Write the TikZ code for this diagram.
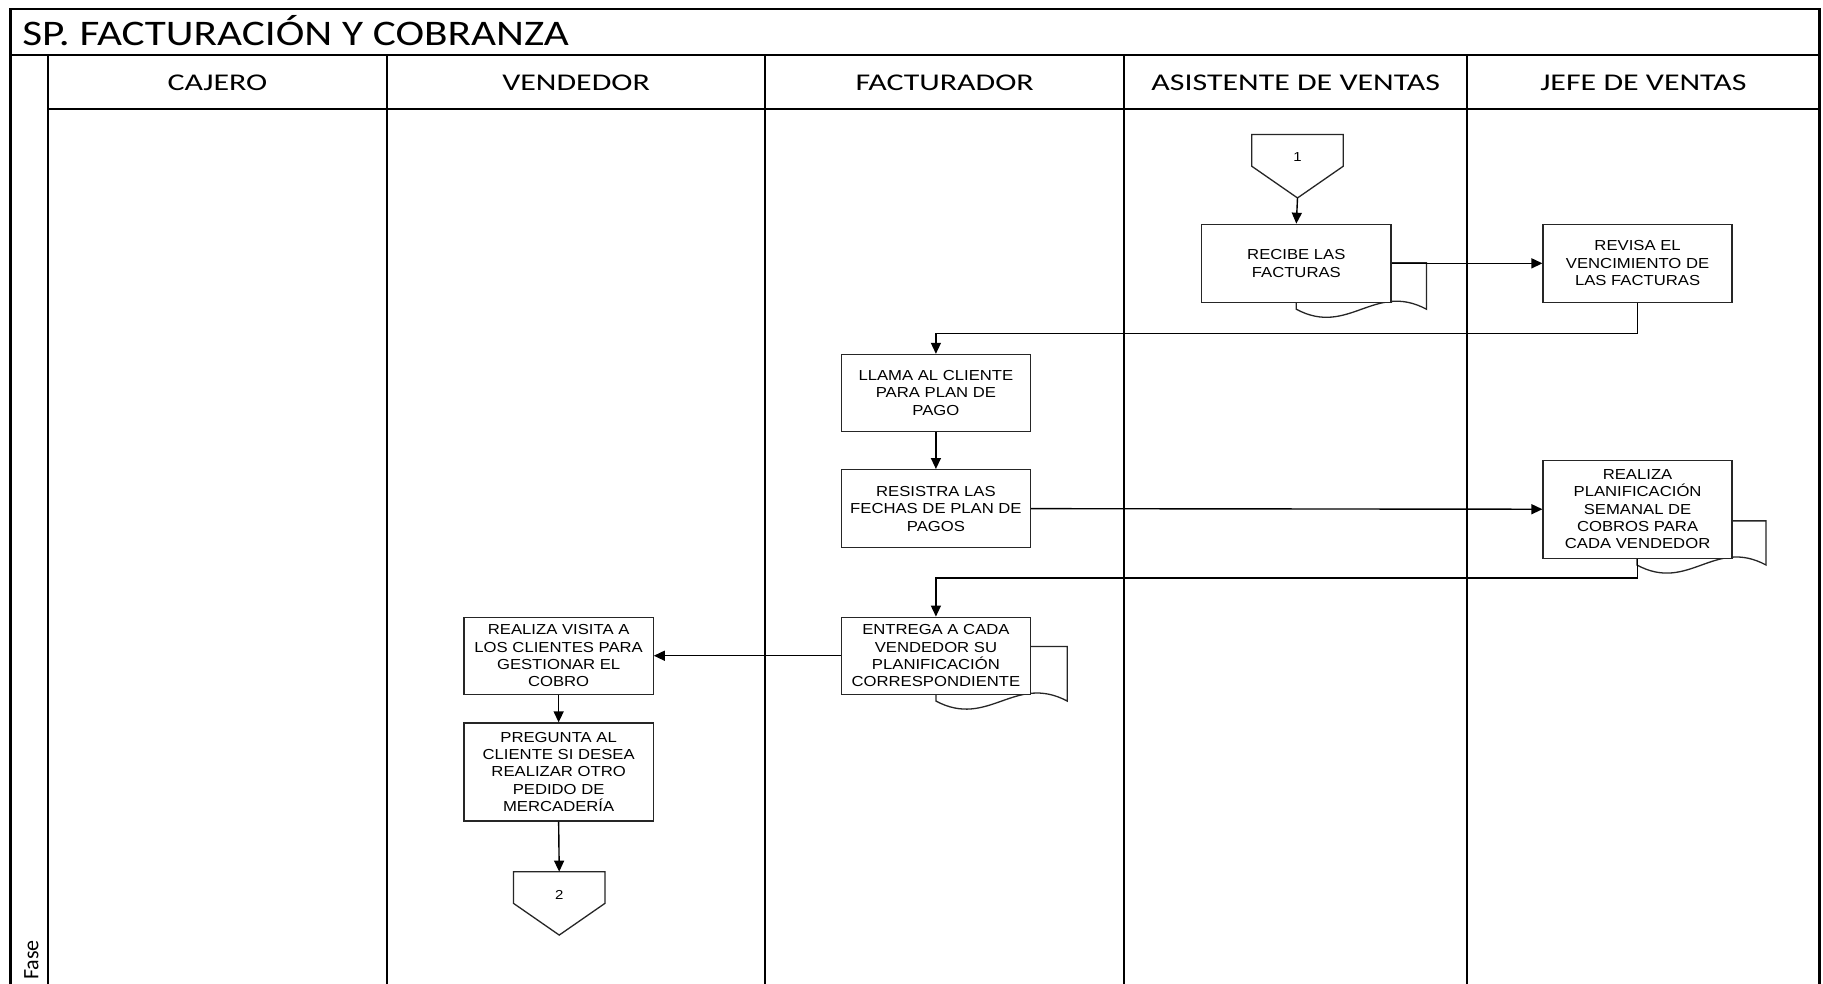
\documentclass[tikz,border=0pt]{standalone}
\usepackage{fontspec}
\setmainfont[FakeStretch=1.15]{Liberation Sans}
\newfontfamily\calibt[FakeStretch=1.2]{Carlito}
\newfontfamily\calibh[FakeStretch=1.33]{Carlito}
\newfontfamily\calib{Carlito}
\usetikzlibrary{arrows.meta,calc}

% document tail drawn behind a box: left, top, right, bottom
\newcommand\doctail[4]{%
  \draw[boxline,fill=white] (#1,#2) -- (#3,#2) -- (#3,#4)
    .. controls ({#3-0.4*(#3-#1)},{#4-24}) and ({#1+0.4*(#3-#1)},{#4+24}) .. (#1,#4) -- cycle;}

% off-page connector drawn around a named node
\newcommand\offpage[1]{%
  \draw[boxline] (#1.north west) -- (#1.north east)
    -- ($(#1.north east)!0.5!(#1.south east)$) -- (#1.south)
    -- ($(#1.north west)!0.5!(#1.south west)$) -- cycle;}

\begin{document}
\begin{tikzpicture}[x=1.1626pt,y=-1.1626pt,
  lane/.style={line width=2.2pt,draw=black},
  boxline/.style={draw=black!85,line width=1.3pt},
  box/.style={boxline,fill=white,minimum width=189pt,align=center,inner sep=0pt,
    font=\fontsize{14.5}{17.4}\selectfont},
  arr/.style={line width=1.4pt,-{Triangle[length=11pt,width=10pt]}},
  conn/.style={minimum width=91pt,minimum height=63pt,inner sep=0pt},
  conntext/.style={font=\fontsize{13}{15}\selectfont,inner sep=0pt},
  hdr/.style={font=\calibh\fontsize{24}{28}\selectfont}
]
\useasboundingbox (0,0) rectangle (1568,846);
\fill[white] (0,0) rectangle (1568,846);

% pool frame, title band, phase column and lanes
\draw[lane] (9,846) -- (9,8) -- (1565,8) -- (1565,846);
\draw[lane] (9,47) -- (1565,47);
\draw[lane] (41,47) -- (41,846);
\draw[lane] (41,94) -- (1565,94);
\foreach \x in {333,658,967,1262} \draw[lane] (\x,47) -- (\x,846);

\node[anchor=west,font=\calibt\fontsize{36}{40}\selectfont,inner sep=0pt] (title) at (19,26) {SP. FACTURACIÓN Y COBRANZA};
\node[hdr] (hcaj) at (187,71) {CAJERO};
\node[hdr] (hven) at (495.5,71) {VENDEDOR};
\node[hdr] (hfac) at (812.5,71) {FACTURADOR};
\node[hdr] (hasi) at (1114.5,71) {ASISTENTE DE VENTAS};
\node[hdr] (hjef) at (1413.5,71) {JEFE DE VENTAS};
\node[rotate=90,anchor=west,inner sep=0pt,font=\calib\fontsize{22}{24}\selectfont] (fase) at (27,843) {Fase};

% document tails
\doctail{1115}{226}{1227}{266}
\doctail{1408}{448}{1519}{486}
\doctail{805}{556}{918}{603}

% off-page connector 1
\node[conn] (c1) at (1116,143) {};
\offpage{c1}
\node[conntext] (c1t) at (1116,135) {1};

% process boxes
\node[box,minimum height=78pt] (recibe) at (1115,226.5) {RECIBE LAS\\FACTURAS};
\node[box,minimum height=78pt] (revisa) at (1408.5,226.5) {REVISA EL\\VENCIMIENTO DE\\LAS FACTURAS};
\node[box,minimum height=77pt] (llama) at (805,338) {LLAMA AL CLIENTE\\PARA PLAN DE\\PAGO};
\node[box,minimum height=78pt] (registra) at (805,437.5) {RESISTRA LAS\\FECHAS DE PLAN DE\\PAGOS};
\node[box,minimum height=98pt] (planifica) at (1408.5,438) {REALIZA\\PLANIFICACIÓN\\SEMANAL DE\\COBROS PARA\\CADA VENDEDOR};
\node[box,minimum height=77pt] (entrega) at (805,564) {ENTREGA A CADA\\VENDEDOR SU\\PLANIFICACIÓN\\CORRESPONDIENTE};
\node[box,minimum height=77pt] (visita) at (480.5,564) {REALIZA VISITA A\\LOS CLIENTES PARA\\GESTIONAR EL\\COBRO};
\node[box,minimum height=98pt] (pregunta) at (480.5,664) {PREGUNTA AL\\CLIENTE SI DESEA\\REALIZAR OTRO\\PEDIDO DE\\MERCADERÍA};

% off-page connector 2
\node[conn] (c2) at (481,777) {};
\offpage{c2}
\node[conntext] (c2t) at (481,770) {2};

% bend points of the routed connectors
\coordinate (k1) at (805,287);
\coordinate (k2) at (805,497);

% flow
\draw[arr] (c1.south) -- (recibe.north);
\draw[arr] (recibe.east) -- (revisa.west);
\draw[arr] (revisa.south) |- (k1) -- (llama.north);
\draw[arr] (llama.south) -- (registra.north);
\draw[arr] (registra.east) -- (planifica.west);
\draw[arr] (planifica.south) |- (k2) -- (entrega.north);
\draw[arr] (entrega.west) -- (visita.east);
\draw[arr] (visita.south) -- (pregunta.north);
\draw[arr] (pregunta.south) -- (c2.north);
\end{tikzpicture}
\end{document}
